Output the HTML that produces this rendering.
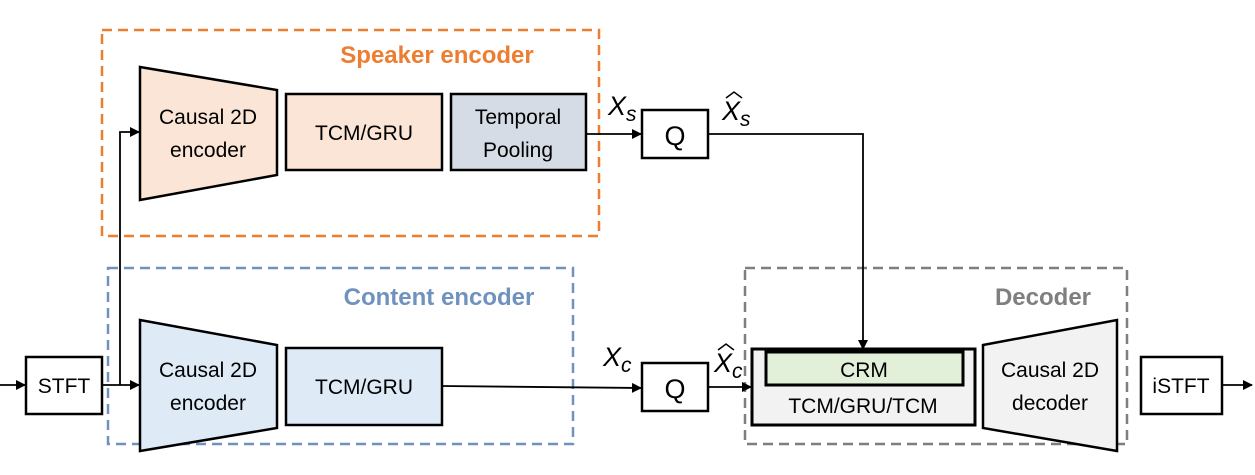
<!DOCTYPE html>
<html><head><style>body{margin:0;background:#fff}svg{display:block}text{font-family:"Liberation Sans",sans-serif}</style></head><body>
<svg width="1255" height="475" viewBox="0 0 1255 475" xmlns="http://www.w3.org/2000/svg">
<defs><marker id="a" markerWidth="10" markerHeight="10" refX="9" refY="5" orient="auto" markerUnits="userSpaceOnUse"><path d="M0,0 L10,5 L0,10 z" fill="#000"/></marker></defs>
<g fill="none" stroke-width="2.5" stroke-dasharray="10,6">
<rect x="102" y="30" width="497" height="206" stroke="#ED7D31"/>
<rect x="108" y="268" width="465" height="176" stroke="#7092BE"/>
<rect x="745" y="268" width="382" height="176" stroke="#7F7F7F"/>
</g>
<text x="437" y="63" fill="#ED7D31" font-size="24" font-weight="bold" text-anchor="middle">Speaker encoder</text>
<text x="439" y="305" fill="#7092BE" font-size="24" font-weight="bold" text-anchor="middle">Content encoder</text>
<text x="1043" y="305" fill="#7F7F7F" font-size="24" font-weight="bold" text-anchor="middle">Decoder</text>
<g stroke="#000" stroke-width="2.5">
<polygon points="140,67 277,90 277,175 140,200" fill="#FBE5D6"/>
<rect x="286" y="94" width="156" height="76" fill="#FBE5D6"/>
<rect x="451" y="94" width="135" height="76" fill="#D6DCE5"/>
<rect x="642" y="110" width="66" height="48" fill="#fff"/>
<polygon points="140,320 277,345 277,428 140,451" fill="#DEEBF7"/>
<rect x="286" y="348" width="156" height="77" fill="#DEEBF7"/>
<rect x="642" y="363" width="66" height="48" fill="#fff"/>
<rect x="752" y="349" width="223" height="76" fill="#F2F2F2" stroke-width="3"/>
<rect x="766" y="352" width="197" height="33" fill="#E2F0D9" stroke-width="3"/>
<polygon points="983,345 1117,320 1117,451 983,428" fill="#F2F2F2"/>
<rect x="1141" y="357" width="81" height="57" fill="#fff"/>
<rect x="26" y="357" width="76" height="57" fill="#fff"/>
</g>
<g stroke="#000" stroke-width="1.8" fill="none">
<line x1="0" y1="385" x2="25" y2="385" marker-end="url(#a)"/>
<line x1="102" y1="385" x2="139" y2="385" marker-end="url(#a)"/>
<polyline points="120,385 120,132 139,132" marker-end="url(#a)"/>
<line x1="586" y1="134" x2="641" y2="134" marker-end="url(#a)"/>
<polyline points="708,134 863,134 863,349" marker-end="url(#a)"/>
<line x1="442" y1="386" x2="641" y2="388" marker-end="url(#a)"/>
<line x1="708" y1="387" x2="751" y2="387" marker-end="url(#a)"/>
<line x1="1222" y1="385" x2="1252" y2="385" marker-end="url(#a)"/>
<path d="M726,98 L734,92 L742,98" stroke-width="1.5"/>
<path d="M718,350 L726,344 L734,350" stroke-width="1.5"/>
</g>
<g font-size="21" text-anchor="middle" fill="#000">
<text x="208" y="124">Causal 2D</text><text x="208" y="157">encoder</text>
<text x="364" y="140">TCM/GRU</text>
<text x="518" y="124">Temporal</text><text x="518" y="157">Pooling</text>
<text x="208" y="377">Causal 2D</text><text x="208" y="410">encoder</text>
<text x="364" y="394">TCM/GRU</text>
<text x="864" y="377">CRM</text>
<text x="863" y="413">TCM/GRU/TCM</text>
<text x="1050" y="377">Causal 2D</text><text x="1050" y="410">decoder</text>
<text x="1181" y="393">iSTFT</text>
<text x="64" y="393">STFT</text>
<text x="675" y="145" font-size="27">Q</text>
<text x="675" y="398" font-size="27">Q</text>
</g>
<g font-style="italic" font-size="27">
<text x="608" y="115" font-family="Liberation Serif,serif">X<tspan font-size="21" dy="6">s</tspan></text>
<text x="722" y="120" font-family="Liberation Serif,serif">X<tspan font-size="21" dy="6">s</tspan></text>
<text x="603" y="366" font-family="Liberation Serif,serif">X<tspan font-size="21" dy="6">c</tspan></text>
<text x="714" y="372" font-family="Liberation Serif,serif">X<tspan font-size="21" dy="6">c</tspan></text>
</g>
</svg>
</body></html>
